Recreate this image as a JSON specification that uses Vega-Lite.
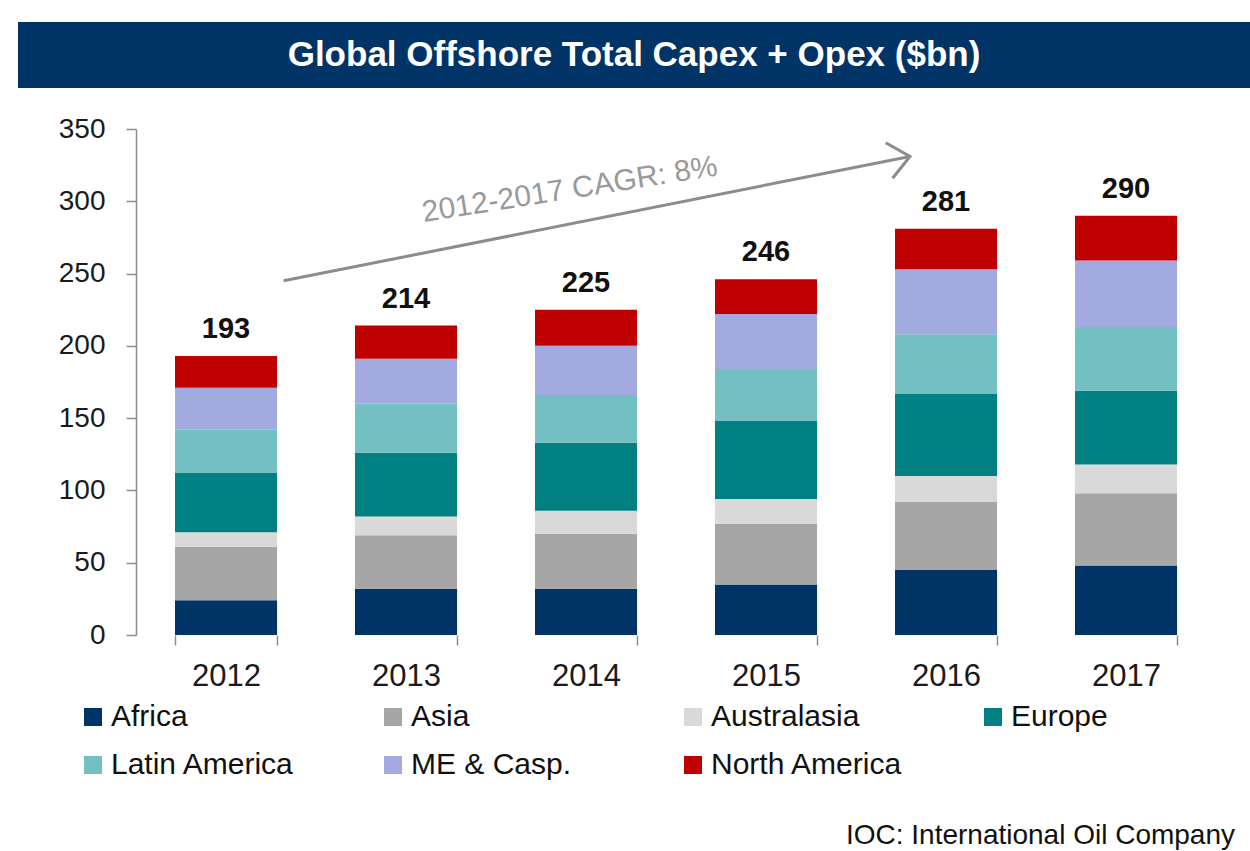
{
  "$schema": "https://vega.github.io/schema/vega-lite/v6.json",
  "background": "white",
  "padding": {"left": 18, "top": 22, "right": 0, "bottom": 5},
  "config": {
    "font": "Liberation Sans",
    "view": {"stroke": null}
  },
  "datasets": {
    "header": [{"title": "Global Offshore Total Capex + Opex ($bn)"}],
    "capex": [
      {"year": "2012", "region": "Africa", "value": 24},
      {"year": "2012", "region": "Asia", "value": 37},
      {"year": "2012", "region": "Australasia", "value": 10},
      {"year": "2012", "region": "Europe", "value": 41},
      {"year": "2012", "region": "Latin America", "value": 30},
      {"year": "2012", "region": "ME & Casp.", "value": 29},
      {"year": "2012", "region": "North America", "value": 22},
      {"year": "2013", "region": "Africa", "value": 32},
      {"year": "2013", "region": "Asia", "value": 37},
      {"year": "2013", "region": "Australasia", "value": 13},
      {"year": "2013", "region": "Europe", "value": 44},
      {"year": "2013", "region": "Latin America", "value": 34},
      {"year": "2013", "region": "ME & Casp.", "value": 31},
      {"year": "2013", "region": "North America", "value": 23},
      {"year": "2014", "region": "Africa", "value": 32},
      {"year": "2014", "region": "Asia", "value": 38},
      {"year": "2014", "region": "Australasia", "value": 16},
      {"year": "2014", "region": "Europe", "value": 47},
      {"year": "2014", "region": "Latin America", "value": 33},
      {"year": "2014", "region": "ME & Casp.", "value": 34},
      {"year": "2014", "region": "North America", "value": 25},
      {"year": "2015", "region": "Africa", "value": 35},
      {"year": "2015", "region": "Asia", "value": 42},
      {"year": "2015", "region": "Australasia", "value": 17},
      {"year": "2015", "region": "Europe", "value": 54},
      {"year": "2015", "region": "Latin America", "value": 36},
      {"year": "2015", "region": "ME & Casp.", "value": 38},
      {"year": "2015", "region": "North America", "value": 24},
      {"year": "2016", "region": "Africa", "value": 45},
      {"year": "2016", "region": "Asia", "value": 47},
      {"year": "2016", "region": "Australasia", "value": 18},
      {"year": "2016", "region": "Europe", "value": 57},
      {"year": "2016", "region": "Latin America", "value": 41},
      {"year": "2016", "region": "ME & Casp.", "value": 45},
      {"year": "2016", "region": "North America", "value": 28},
      {"year": "2017", "region": "Africa", "value": 48},
      {"year": "2017", "region": "Asia", "value": 50},
      {"year": "2017", "region": "Australasia", "value": 20},
      {"year": "2017", "region": "Europe", "value": 51},
      {"year": "2017", "region": "Latin America", "value": 44},
      {"year": "2017", "region": "ME & Casp.", "value": 46},
      {"year": "2017", "region": "North America", "value": 31}
    ],
    "arrow": [
      {"pos": 0.82, "bn": 245, "tip": false},
      {"pos": 4.3, "bn": 331, "tip": true}
    ],
    "note": [{"pos": 2.41, "bn": 308, "label": "2012-2017 CAGR: 8%"}]
  },
  "title": {
    "text": "IOC: International Oil Company",
    "orient": "bottom",
    "anchor": "end",
    "fontSize": 28,
    "fontWeight": "normal",
    "color": "#111111",
    "offset": 42,
    "dx": -15
  },
  "vconcat": [
    {
      "width": 1232,
      "height": 66,
      "view": {"fill": "#003366", "stroke": null},
      "data": {"name": "header"},
      "mark": {"type": "text", "color": "white", "fontWeight": "bold", "fontSize": 35},
      "encoding": {"text": {"field": "title", "type": "nominal"}}
    },
    {
      "width": 1232,
      "height": 506,
      "layer": [
        {
          "data": {"name": "capex"},
          "mark": {"type": "bar"},
          "encoding": {
            "x": {
              "field": "year", "type": "nominal",
              "scale": {"paddingInner": 0.433, "paddingOuter": 0.6387, "align": 0.6828},
              "axis": {
                "title": null, "labelAngle": 0, "labelFontSize": 31, "labelColor": "#1a1a1a",
                "labelPadding": 16, "tickBand": "extent", "tickSize": 10,
                "tickColor": "#8c8c8c", "tickWidth": 1.5, "domain": false
              }
            },
            "y": {
              "field": "value", "type": "quantitative", "stack": "zero",
              "scale": {"domain": [0, 350], "nice": false},
              "axis": {
                "title": null, "values": [0, 50, 100, 150, 200, 250, 300, 350], "grid": false,
                "labelFontSize": 28, "labelColor": "#1a1a1a", "labelPadding": 21,
                "tickSize": 10, "tickColor": "#8c8c8c", "tickWidth": 1.5,
                "domainColor": "#8c8c8c", "domainWidth": 1.5, "offset": -118
              }
            },
            "order": {"field": "region", "type": "nominal", "sort": "ascending"},
            "color": {
              "field": "region", "type": "nominal",
              "scale": {
                "domain": ["Africa", "Asia", "Australasia", "Europe", "Latin America", "ME & Casp.", "North America"],
                "range": ["#003366", "#a6a6a6", "#d9d9d9", "#008080", "#73c0c3", "#a2aadf", "#c00000"]
              },
              "legend": {
                "title": null, "orient": "none", "legendX": 60, "legendY": 573,
                "direction": "horizontal", "columns": 4, "gridAlign": "all",
                "symbolType": "square", "symbolSize": 324, "symbolStrokeWidth": 0,
                "labelFontSize": 30, "labelColor": "#111111", "labelOffset": 3,
                "columnPadding": 75, "rowPadding": 18, "labelLimit": 400, "padding": 0
              }
            }
          }
        },
        {
          "data": {"name": "capex"},
          "transform": [
            {"aggregate": [{"op": "sum", "field": "value", "as": "total"}], "groupby": ["year"]}
          ],
          "mark": {"type": "text", "fontWeight": "bold", "fontSize": 29, "baseline": "alphabetic", "dy": -18, "color": "#111111"},
          "encoding": {
            "x": {
              "field": "year", "type": "nominal",
              "scale": {"type": "band", "paddingInner": 0.433, "paddingOuter": 0.6387, "align": 0.6828},
              "axis": null
            },
            "y": {"field": "total", "type": "quantitative"},
            "text": {"field": "total", "type": "quantitative"}
          }
        },
        {
          "mark": {"type": "rule", "color": "#8c8c8c", "strokeWidth": 1.5},
          "encoding": {
            "x": {"datum": 0, "type": "quantitative", "scale": {"domain": [-0.65556, 6.18889], "nice": false, "zero": false}, "axis": null},
            "x2": {"datum": 6},
            "y": {"datum": 0, "type": "quantitative"}
          }
        },
        {
          "data": {"name": "arrow"},
          "mark": {"type": "line", "color": "#8c8c8c", "strokeWidth": 3},
          "encoding": {
            "x": {"field": "pos", "type": "quantitative", "scale": {"domain": [-0.65556, 6.18889], "nice": false, "zero": false}, "axis": null},
            "y": {"field": "bn", "type": "quantitative"}
          }
        },
        {
          "data": {"name": "arrow"},
          "transform": [{"filter": "datum.tip"}],
          "mark": {"type": "point", "shape": "M-1,-0.85L0,0L-1,0.85", "filled": false, "size": 1800, "strokeWidth": 3, "color": "#8c8c8c", "opacity": 1, "angle": 349},
          "encoding": {
            "x": {"field": "pos", "type": "quantitative", "scale": {"domain": [-0.65556, 6.18889], "nice": false, "zero": false}, "axis": null},
            "y": {"field": "bn", "type": "quantitative"}
          }
        },
        {
          "data": {"name": "note"},
          "mark": {"type": "text", "fontSize": 30, "color": "#999999", "angle": 351, "align": "center", "baseline": "middle"},
          "encoding": {
            "x": {"field": "pos", "type": "quantitative", "scale": {"domain": [-0.65556, 6.18889], "nice": false, "zero": false}, "axis": null},
            "y": {"field": "bn", "type": "quantitative"},
            "text": {"field": "label", "type": "nominal"}
          }
        }
      ],
      "resolve": {"scale": {"x": "independent"}}
    }
  ],
  "spacing": 27,
  "resolve": {"legend": {"color": "independent"}}
}
